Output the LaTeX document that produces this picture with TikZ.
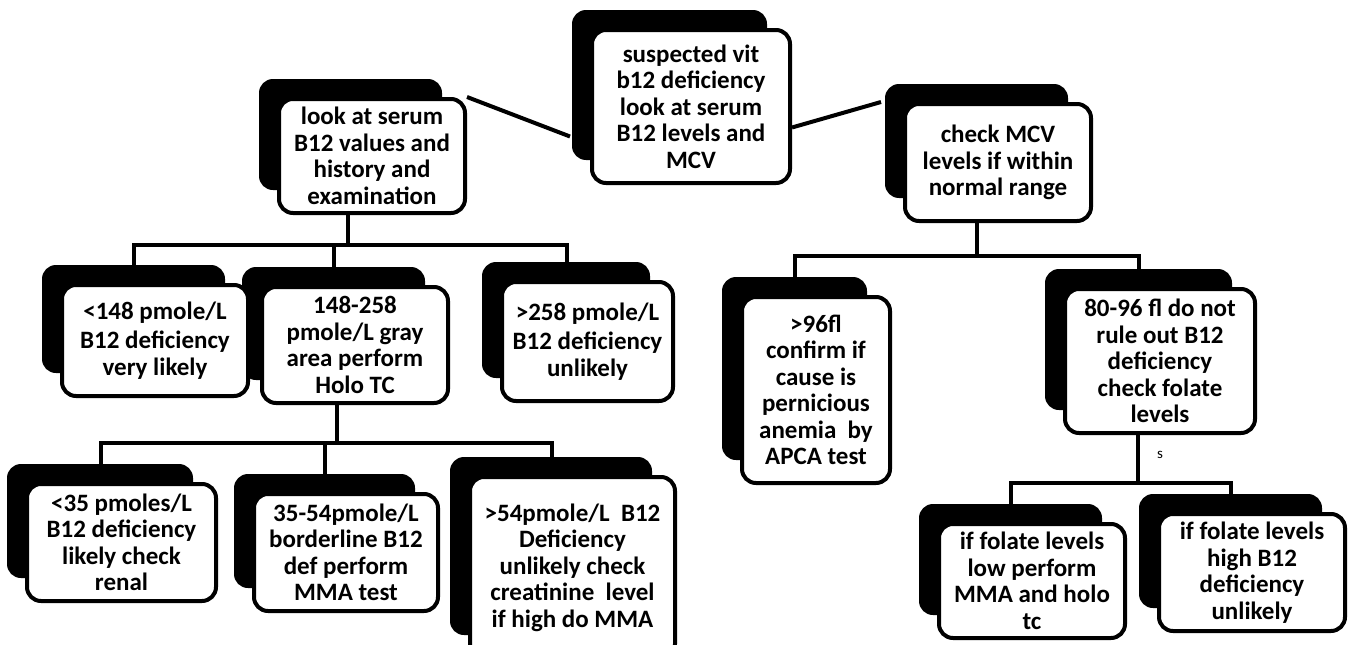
\documentclass[tikz,border=0pt]{standalone}
\usepackage{fontspec}
\setmainfont{Carlito}
\usepackage{tikz}
\usetikzlibrary{positioning}
\usetikzlibrary{backgrounds}

\tikzset{
    box/.style={draw, line width=4pt, rounded corners=14pt, fill=white, align=center,
        inner sep=0pt, font=\bfseries\fontsize{25}{26.5}\selectfont},
    conn/.style={line width=4pt},
    shade/.style={fill=black, rounded corners=14pt},
}

\begin{document}
\begin{tikzpicture}[x=1pt, y=-1pt]
    \useasboundingbox (0,0) rectangle (1349,645);

    % Top level
    \node[box, minimum width=198, minimum height=153] (main) at (691,106.5) {suspected vit\\ b12 deficiency\\ look at serum\\ B12 levels and\\ MCV};
    \node[box, minimum width=186, minimum height=114] (look) at (372,156) {look at serum\\ B12 values  and\\ history and\\ examination};
    \node[box, minimum width=186, minimum height=117] (mcv) at (998,162.5) {check MCV\\ levels if within\\ normal range};
    \draw[conn] (look.north east) -- ([shift={(-20pt,-30pt)}]main.west);
    \draw[conn] ([yshift=-21pt]main.east) -- ([xshift=-22pt]mcv.north west);

    % Serum B12 ranges
    \node[box, minimum width=186, minimum height=111] (low) at (155,340.5) {{<}148 pmole/L\\[3pt] B12 deficiency\\ very likely};
    \node[box, minimum width=186, minimum height=116] (gray) at (355,345) {148-258\\ pmole/L gray\\ area perform\\ Holo TC};
    \node[box, minimum width=171, minimum height=119] (high) at (587.5,341.5) {{>}258 pmole/L\\[3pt] B12 deficiency\\ unlikely};
    \draw[conn] ([xshift=-24pt]look.south) -- ++(0,-30pt) coordinate (lookbar);
    \draw[conn] ([shift={(-21pt,18pt)}]low.north) |- (lookbar) -| ([shift={(-21pt,18pt)}]high.north);
    \draw[conn] ([shift={(-21pt,18pt)}]gray.north) -- ([shift={(-21pt,0pt)}]gray.north |- lookbar);

    % Holo TC results
    \node[box, minimum width=189, minimum height=117] (holoa) at (121.5,542.5) {{<}35 pmoles/L\\ B12 deficiency\\ likely check\\ renal};
    \node[box, minimum width=184, minimum height=117] (holob) at (346,552.5) {35-54pmole/L\\ borderline B12\\ def perform\\ MMA test};
    \node[box, minimum width=205, minimum height=181] (holoc) at (572.5,567.5) {{>}54pmole/L \ B12\\ Deficiency\\ unlikely check\\ creatinine \ level\\ if high do MMA};
    \draw[conn] ([xshift=-18pt]gray.south) -- ++(0,-38pt) coordinate (graybar);
    \draw[conn] ([shift={(-21pt,18pt)}]holoa.north) |- (graybar) -| ([shift={(-21pt,18pt)}]holoc.north);
    \draw[conn] ([shift={(-21pt,18pt)}]holob.north) -- ([shift={(-21pt,0pt)}]holob.north |- graybar);

    % MCV results
    \node[box, minimum width=148, minimum height=186] (macro) at (816,390) {{>}96fl\\ confirm if\\ cause is\\ pernicious\\ anemia \ by\\ APCA test};
    \node[box, minimum width=190, minimum height=144] (normo) at (1160,361) {80-96 fl do not\\ rule out B12\\ deficiency\\ check folate\\ levels};
    \draw[conn] ([xshift=-21pt]mcv.south) -- ++(0,-33pt) coordinate (mcvbar);
    \draw[conn] ([shift={(-21pt,18pt)}]macro.north) |- (mcvbar) -| ([shift={(-21pt,18pt)}]normo.north);

    % Folate results
    \node[box, minimum width=186, minimum height=114] (folow) at (1032,581) {if folate levels\\ low perform\\ MMA and holo\\ tc};
    \node[box, minimum width=186, minimum height=117] (fohigh) at (1252,572.5) {if folate levels\\ high B12\\ deficiency\\ unlikely};
    \draw[conn] ([xshift=-22pt]normo.south) -- ++(0,-48pt) coordinate (normobar);
    \draw[conn] ([shift={(-21pt,18pt)}]folow.north) |- (normobar) -| ([shift={(-21pt,18pt)}]fohigh.north);
    \node[font=\fontsize{15}{15}\selectfont] (smark) at ([yshift=-20pt]normo.south) {s};

    % Shadows behind the boxes
    \begin{pgfonlayer}{background}
        \foreach \n in {main,look,mcv,low,gray,high,holoa,holob,holoc,macro,normo,folow,fohigh}
            \fill[shade] ([shift={(-18pt,18pt)}]\n.north west) rectangle ([shift={(-25pt,25pt)}]\n.south east);
    \end{pgfonlayer}
\end{tikzpicture}
\end{document}
